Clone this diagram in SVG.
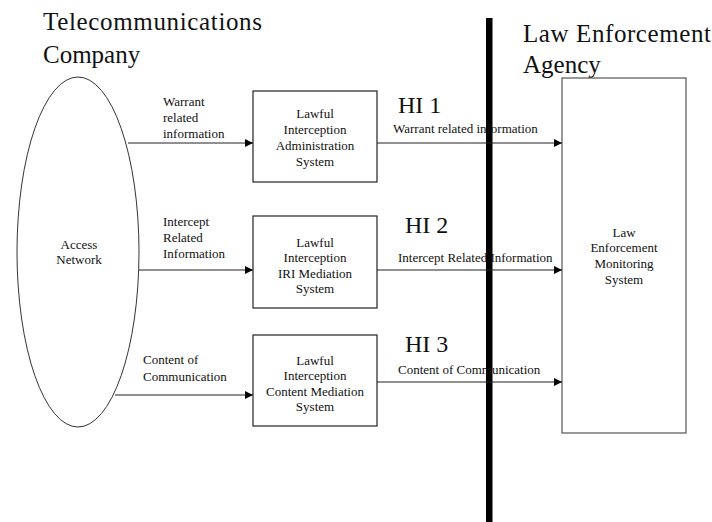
<svg xmlns="http://www.w3.org/2000/svg" width="712" height="522" viewBox="0 0 712 522">
<defs>
<marker id="ah" viewBox="0 0 10 10" refX="10" refY="5" markerWidth="9" markerHeight="8" markerUnits="userSpaceOnUse" orient="auto">
<path d="M0,0 L10,5 L0,10 z" fill="#000"/>
</marker>
<style>
text{font-family:"Liberation Serif","Times New Roman",serif;fill:#111}
.big{font-size:25px}
.hi{font-size:24px}
.sm{font-size:13px}
.bx{font-size:13px;text-anchor:middle}
.box{fill:#fff;stroke:#222;stroke-width:1.2}
.conn{stroke:#222;stroke-width:1.2;fill:none;marker-end:url(#ah)}
</style>
</defs>
<rect width="712" height="522" fill="#fff"/>
<g id="titles">
<text class="big" x="43" y="30" textLength="219" lengthAdjust="spacing">Telecommunications</text>
<text class="big" x="43" y="63">Company</text>
<text class="big" x="523" y="42" textLength="188" lengthAdjust="spacing">Law Enforcement</text>
<text class="big" x="523" y="73">Agency</text>
</g>
<g id="boundary">
<rect x="486" y="18" width="6.5" height="504" fill="#000"/>
</g>
<g id="access-network">
<ellipse cx="78" cy="252" rx="61" ry="175" fill="#fff" stroke="#333" stroke-width="1"/>
<text class="bx" x="79" y="249">Access</text>
<text class="bx" x="79" y="264">Network</text>
</g>
<g id="admin">
<rect class="box" x="253" y="91" width="124" height="91"/>
<text class="bx" x="315" y="118">Lawful</text>
<text class="bx" x="315" y="134">Interception</text>
<text class="bx" x="315" y="150">Administration</text>
<text class="bx" x="315" y="166">System</text>
</g>
<g id="iri">
<rect class="box" x="253" y="216" width="124" height="92"/>
<text class="bx" x="315" y="247">Lawful</text>
<text class="bx" x="315" y="262">Interception</text>
<text class="bx" x="315" y="278">IRI Mediation</text>
<text class="bx" x="315" y="293">System</text>
</g>
<g id="content">
<rect class="box" x="253" y="335" width="124" height="91"/>
<text class="bx" x="315" y="365">Lawful</text>
<text class="bx" x="315" y="380">Interception</text>
<text class="bx" x="315" y="396">Content Mediation</text>
<text class="bx" x="315" y="411">System</text>
</g>
<g id="lems">
<rect x="562" y="78" width="124" height="355" fill="none" stroke="#555" stroke-width="1.2"/>
<text class="bx" x="624" y="237">Law</text>
<text class="bx" x="624" y="252">Enforcement</text>
<text class="bx" x="624" y="268">Monitoring</text>
<text class="bx" x="624" y="284">System</text>
</g>
<g id="connectors">
<line class="conn" x1="128" y1="143" x2="253" y2="143"/>
<line class="conn" x1="139" y1="270" x2="253" y2="270"/>
<line class="conn" x1="115" y1="395" x2="253" y2="395"/>
<line class="conn" x1="377" y1="143" x2="562" y2="143"/>
<line class="conn" x1="377" y1="270" x2="562" y2="270"/>
<line class="conn" x1="377" y1="382" x2="562" y2="382"/>
</g>
<g id="labels">
<text class="sm" x="163" y="106">Warrant</text>
<text class="sm" x="163" y="122">related</text>
<text class="sm" x="163" y="138">information</text>
<text class="sm" x="163" y="226">Intercept</text>
<text class="sm" x="163" y="242">Related</text>
<text class="sm" x="163" y="258">Information</text>
<text class="sm" x="143" y="364">Content of</text>
<text class="sm" x="143" y="381">Communication</text>
<text class="hi" x="398" y="113">HI 1</text>
<text class="hi" x="405" y="233">HI 2</text>
<text class="hi" x="405" y="352">HI 3</text>
<text class="sm" x="393" y="133">Warrant related information</text>
<text class="sm" x="398" y="262">Intercept Related Information</text>
<text class="sm" x="398" y="374">Content of Communication</text>
</g>
</svg>
